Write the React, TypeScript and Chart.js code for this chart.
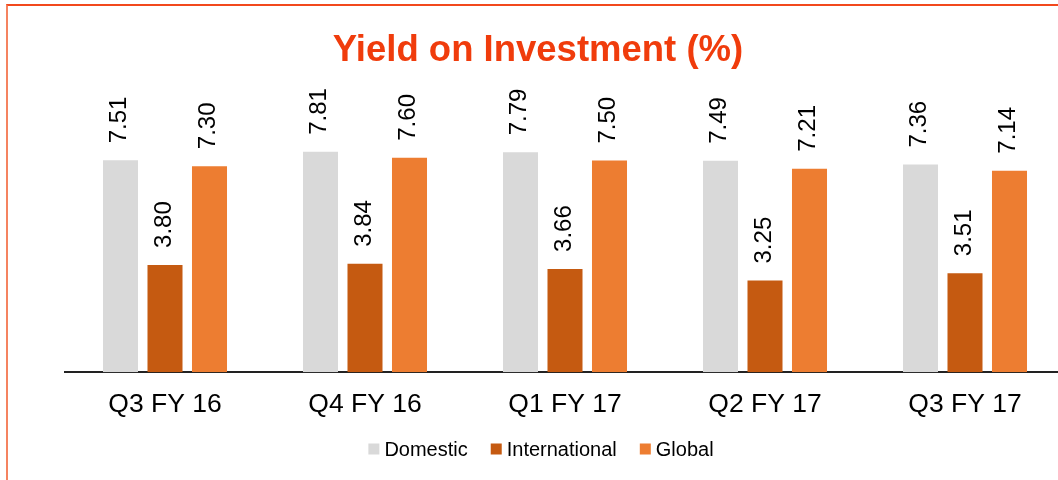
import React, { useEffect, useRef } from "react";
import { Chart, registerables } from "chart.js";

Chart.register(...registerables);

const categories = ["Q3 FY 16", "Q4 FY 16", "Q1 FY 17", "Q2 FY 17", "Q3 FY 17"];
const domestic = [7.51, 7.81, 7.79, 7.49, 7.36];
const international = [3.8, 3.84, 3.66, 3.25, 3.51];
const globalVals = [7.3, 7.6, 7.5, 7.21, 7.14];
const seriesNames = ["Domestic", "International", "Global"];
const seriesColors = ["#D9D9D9", "#C55A11", "#ED7D31"];
const titleText = "Yield on Investment (%)";

const FONT = "'Liberation Sans', Arial, sans-serif";

const overlayPlugin = {
  id: "overlay",
  afterDatasetsDraw(chart: any) {
    const ctx = chart.ctx;
    ctx.save();
    // value labels
    ctx.fillStyle = "#000";
    ctx.font = `24px ${FONT}`;
    ctx.textAlign = "left";
    ctx.textBaseline = "middle";
    chart.data.datasets.forEach((ds: any, di: number) => {
      const meta = chart.getDatasetMeta(di);
      meta.data.forEach((el: any, i: number) => {
        const v = ds.data[i] as number;
        ctx.save();
        ctx.translate(el.x - 1, el.y - 17);
        ctx.rotate(-Math.PI / 2);
        ctx.fillText(v.toFixed(2), 0, 0);
        ctx.restore();
      });
    });
    // title
    ctx.font = `bold 36.5px ${FONT}`;
    ctx.fillStyle = "#F03C0C";
    ctx.textAlign = "center";
    ctx.textBaseline = "alphabetic";
    ctx.fillText(titleText, 538, 61);
    // legend
    ctx.font = `20px ${FONT}`;
    const box = 11;
    const gapBox = 5;
    const gapItem = 23;
    const widths = seriesNames.map((n) => ctx.measureText(n).width);
    let total = 0;
    widths.forEach((w, i) => {
      total += box + gapBox + w + (i < widths.length - 1 ? gapItem : 0);
    });
    let x = 541 - total / 2;
    const yMid = 449;
    ctx.textAlign = "left";
    ctx.textBaseline = "middle";
    seriesNames.forEach((n, i) => {
      ctx.fillStyle = seriesColors[i];
      ctx.fillRect(x, yMid - box / 2, box, box);
      ctx.fillStyle = "#000";
      ctx.fillText(n, x + box + gapBox, yMid + 1);
      x += box + gapBox + widths[i] + gapItem;
    });
    ctx.restore();
  },
};

export default function App() {
  const ref = useRef<HTMLCanvasElement>(null);
  useEffect(() => {
    if (!ref.current) return;
    const chart = new Chart(ref.current, {
      type: "bar",
      data: {
        labels: categories,
        datasets: [domestic, international, globalVals].map((d, i) => ({
          label: seriesNames[i],
          data: d,
          backgroundColor: seriesColors[i],
          borderWidth: 0,
          categoryPercentage: 0.6675,
          barPercentage: 0.787,
        })),
      },
      options: {
        animation: false,
        responsive: true,
        maintainAspectRatio: false,
        layout: { padding: { left: 65, right: 35, top: 90, bottom: 42 } },
        plugins: {
          legend: { display: false },
          title: { display: false },
          tooltip: { enabled: false },
        },
        scales: {
          x: {
            grid: { display: false, drawTicks: false },
            border: { display: true, color: "#222", width: 2 },
            ticks: {
              color: "#000",
              padding: 17,
              font: { family: FONT, size: 26.5 },
              maxRotation: 0,
              autoSkip: false,
            },
          },
          y: {
            display: false,
            min: 0,
            max: 10,
          },
        },
      },
      plugins: [overlayPlugin],
    });
    return () => chart.destroy();
  }, []);

  return (
    <div
      style={{
        position: "fixed",
        left: 0,
        top: 0,
        width: 1058,
        height: 480,
        overflow: "hidden",
        background: "#fff",
      }}
    >
      <div style={{ position: "absolute", left: 0, top: 0, width: 1100, height: 480 }}>
        <canvas ref={ref} />
      </div>
      <div
        style={{
          position: "absolute",
          left: 6,
          top: 4,
          width: 1200,
          height: 700,
          borderTop: "2px solid #F2481C",
          borderLeft: "2px solid #F58360",
          pointerEvents: "none",
        }}
      />
    </div>
  );
}
